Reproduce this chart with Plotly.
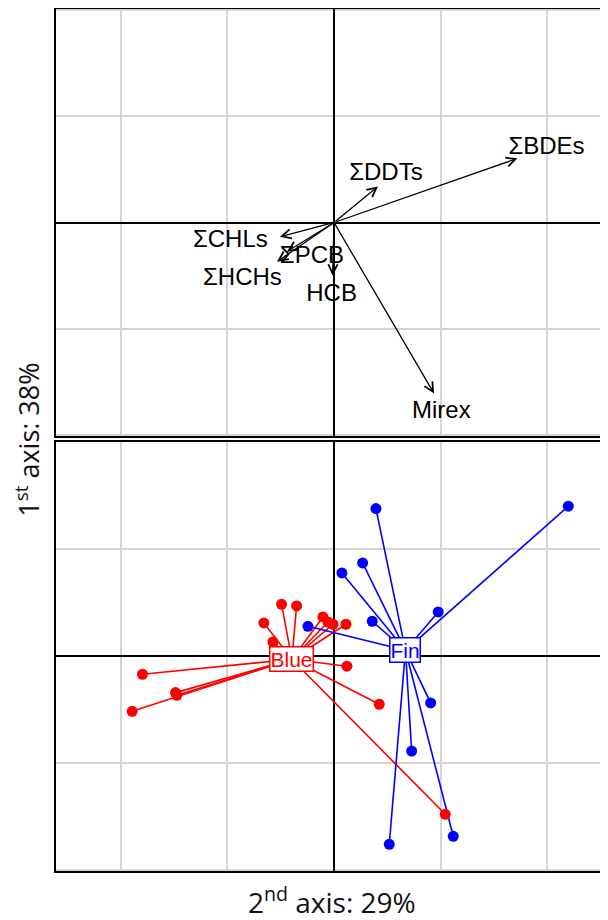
import plotly.graph_objects as go

# ---- Top panel: variable arrows (correlation circle) ----
var_names = ["ΣBDEs", "ΣDDTs", "ΣCHLs", "ΣPCB", "ΣHCHs", "HCB", "Mirex"]
var_x = [1.720, 0.412, -0.508, -0.442, -0.535, -0.013, 0.938]
var_y = [0.604, 0.340, -0.134, -0.275, -0.369, -0.500, -1.610]
label_x = [1.992, 0.487, -0.972, -0.207, -0.859, -0.023, 1.006]
label_y = [0.704, 0.454, -0.172, -0.328, -0.531, -0.678, -1.785]

# ---- Bottom panel: individuals by species ----
blue_whale_x = [-0.492, -0.351, -0.658, -0.573, -0.104, -0.057, -0.010, 0.112,
                0.121, 0.424, 1.043, -1.796, -1.486, -1.474, -1.893]
blue_whale_y = [0.484, 0.468, 0.309, 0.131, 0.365, 0.318, 0.297, 0.297,
                -0.096, -0.452, -1.482, -0.171, -0.343, -0.368, -0.518]
blue_whale_center = (-0.395, -0.031)

fin_whale_x = [0.393, 2.197, 0.268, 0.074, 0.977, 0.358, -0.245, 0.906, 0.728, 1.118, 0.518]
fin_whale_y = [1.380, 1.402, 0.871, 0.777, 0.412, 0.325, 0.278, -0.440, -0.890, -1.688, -1.763]
fin_whale_center = (0.670, 0.053)

groups = [
    ("Blue", blue_whale_x, blue_whale_y, blue_whale_center, "#FF0000"),
    ("Fin", fin_whale_x, fin_whale_y, fin_whale_center, "#0000FF"),
]

x_title = "2<sup>nd</sup> axis: 29%"
y_title = "1<sup>st</sup> axis: 38%"

fig = go.Figure()

# arrow labels
fig.add_trace(go.Scatter(
    x=label_x, y=label_y, text=var_names, mode="text",
    textposition="middle center",
    textfont=dict(family="Liberation Sans", size=24, color="black"),
    xaxis="x", yaxis="y", hoverinfo="skip", showlegend=False,
))

annotations = []
for vx, vy in zip(var_x, var_y):
    annotations.append(dict(
        x=vx, y=vy, ax=0, ay=0, xref="x", yref="y", axref="x", ayref="y",
        text="", showarrow=True, arrowhead=5, arrowsize=1.4, arrowwidth=1.3,
        arrowcolor="black",
    ))

for name, gx, gy, (cx, cy), col in groups:
    lx, ly = [], []
    for px, py in zip(gx, gy):
        lx += [cx, px, None]
        ly += [cy, py, None]
    fig.add_trace(go.Scatter(
        x=lx, y=ly, mode="lines", line=dict(color=col, width=1.6),
        xaxis="x2", yaxis="y2", hoverinfo="skip", showlegend=False,
    ))
for name, gx, gy, (cx, cy), col in groups:
    fig.add_trace(go.Scatter(
        x=gx, y=gy, mode="markers", marker=dict(color=col, size=11),
        xaxis="x2", yaxis="y2", hoverinfo="skip", showlegend=False,
    ))
    annotations.append(dict(
        x=cx, y=cy, xref="x2", yref="y2", text=name, showarrow=False,
        font=dict(family="Liberation Sans", size=21, color=col),
        bgcolor="white", bordercolor=col, borderwidth=1.5, borderpad=0,
    ))

annotations.append(dict(
    x=0.5, y=-0.0348, xref="paper", yref="paper", text=x_title, showarrow=False,
    xanchor="center", yanchor="middle",
    font=dict(family="Open Sans", size=28, color="#111111"),
))
annotations.append(dict(
    x=-0.052, y=0.5006, xref="paper", yref="paper", text=y_title, showarrow=False,
    xanchor="center", yanchor="middle", textangle=-90,
    font=dict(family="Open Sans", size=27, color="#111111"),
))

xrange = [-2.607, 2.569]
common_x = dict(range=xrange, dtick=1, tick0=0, showgrid=True, gridcolor="#d4d4d4",
                gridwidth=2, zeroline=True, zerolinecolor="black", zerolinewidth=2,
                showline=True, linecolor="black", linewidth=2, mirror=True,
                showticklabels=False, ticks="", fixedrange=True)
common_y = dict(dtick=1, tick0=0, showgrid=True, gridcolor="#d4d4d4",
                gridwidth=2, zeroline=True, zerolinecolor="black", zerolinewidth=2,
                showline=True, linecolor="black", linewidth=2, mirror=False,
                showticklabels=False, ticks="", fixedrange=True)

# page has an 8px body margin, so the figure is sized to fill the rest
fig.update_layout(
    width=600, height=912,
    margin=dict(l=48, r=0, t=1, b=49),
    paper_bgcolor="white", plot_bgcolor="white",
    showlegend=False,
    xaxis=dict(**common_x, anchor="y", domain=[0, 1]),
    yaxis=dict(**common_y, anchor="x", domain=[0.5046, 1.0], range=[-2.01, 2.01]),
    xaxis2=dict(**common_x, anchor="y2", domain=[0, 1]),
    yaxis2=dict(**common_y, anchor="x2", domain=[0.0, 0.4973], range=[-2.013, 2.0]),
    annotations=annotations,
    font=dict(family="Liberation Sans"),
)

fig.write_html("out.html")
